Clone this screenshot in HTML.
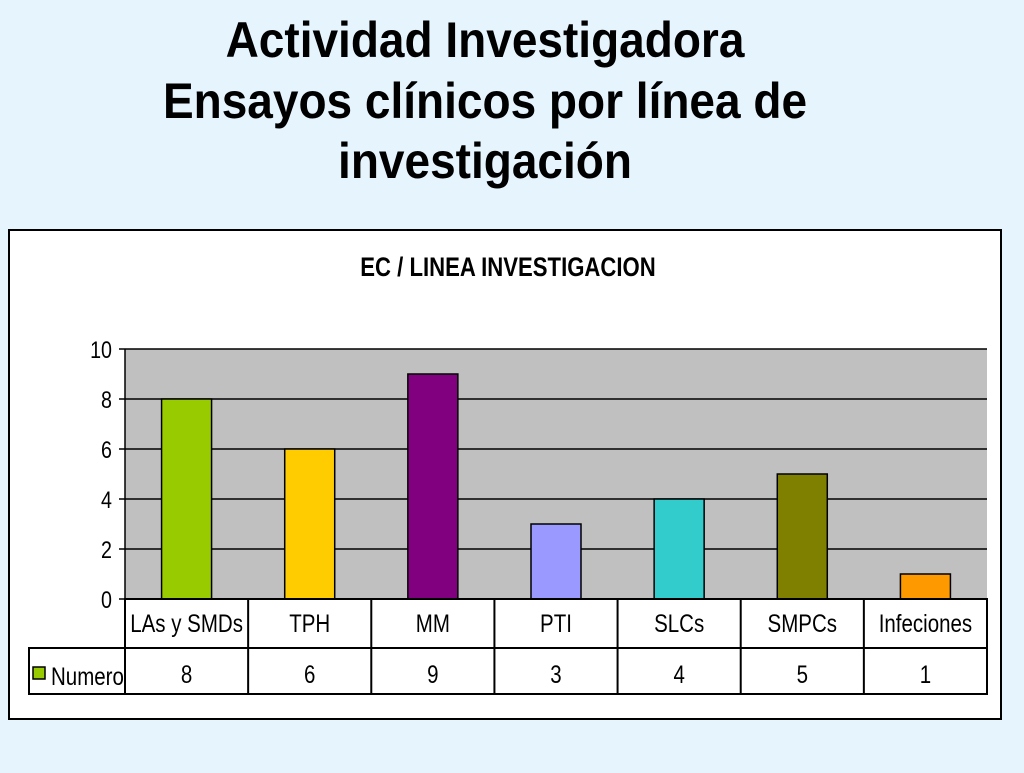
<!DOCTYPE html>
<html><head><meta charset="utf-8"><style>
body{margin:0;width:1024px;height:768px;background:#e6f4fd;overflow:hidden;font-family:"Liberation Sans",sans-serif}
</style></head><body>
<svg width="1024" height="768" font-family="Liberation Sans, sans-serif">
<g font-weight="bold" font-size="50" text-anchor="middle" fill="#000">
<text transform="translate(485,57) scale(0.92,1)">Actividad Investigadora</text>
<text transform="translate(485,118) scale(0.92,1)">Ensayos clínicos por línea de</text>
<text transform="translate(485,178) scale(0.92,1)">investigación</text>
</g>
<rect x="9" y="230" width="992" height="489" fill="#fff" stroke="#000" stroke-width="2"/>
<text transform="translate(508,276) scale(0.82,1)" font-size="27" font-weight="bold" text-anchor="middle">EC / LINEA INVESTIGACION</text>
<rect x="125" y="349" width="862" height="250" fill="#c0c0c0"/>
<g id="grid"></g><g id="bars"></g><g id="yticks"></g><g id="table"></g>
</svg>
<script>
const categories=["LAs y SMDs","TPH","MM","PTI","SLCs","SMPCs","Infeciones"];
const values=[8,6,9,3,4,5,1];
const colors=["#99cc00","#ffcc00","#800080","#9999ff","#33cccc","#808000","#ff9900"];
const yTicks=[0,2,4,6,8,10];
const NS="http://www.w3.org/2000/svg";
const x0=125,x1=987,y0=599,y1=349,yMax=10;
const colW=(x1-x0)/categories.length;
const y=v=>y0-(y0-y1)*v/yMax;
const xc=i=>x0+colW*(i+0.5);
function mk(t,a,p){const e=document.createElementNS(NS,t);for(const k in a)e.setAttribute(k,a[k]);p.appendChild(e);return e;}
function txt(s,x,yy,size,anchor,p){const e=mk('text',{transform:'translate('+x+','+yy+') scale(0.82,1)','font-size':size,'text-anchor':anchor},p);e.textContent=s;return e;}
const grid=document.getElementById('grid'),bars=document.getElementById('bars'),yt=document.getElementById('yticks'),tb=document.getElementById('table');
yTicks.forEach(t=>{
 if(t>0){const l=mk('line',{x1:x0,x2:x1,y1:y(t),y2:y(t),stroke:'#000','stroke-width':1.5},grid);
 
 }
 const k=mk('line',{x1:x0-6,x2:x0,y1:y(t),y2:y(t),stroke:'#000','stroke-width':1.5},yt);
 
 
 const tx=txt(String(t),x0-13,y(t)+9,24,'end',yt);
 
 
});
mk('line',{x1:x0,x2:x0,y1:y1,y2:y0,stroke:'#000','stroke-width':1.5},yt);
values.forEach((v,i)=>{
 const r=mk('rect',{x:xc(i)-25,y:y(v),width:50,height:y0-y(v),fill:colors[i],stroke:'#000','stroke-width':1.5},bars);
 
 
});
const r1=599,r2=648,r3=694;
mk('rect',{x:x0,y:r1,width:x1-x0,height:r2-r1,fill:'#fff',stroke:'#000','stroke-width':2},tb);
mk('rect',{x:29,y:r2,width:x1-29,height:r3-r2,fill:'#fff',stroke:'#000','stroke-width':2},tb);
for(let i=0;i<=categories.length;i++){mk('line',{x1:x0+colW*i,x2:x0+colW*i,y1:r1,y2:r3,stroke:'#000','stroke-width':2},tb);}
categories.forEach((c,i)=>{
 const t=txt(c,xc(i),632,25,'middle',tb);
 
 
 const d=txt(String(values[i]),xc(i),683,25,'middle',tb);
 
 
});
const lk=mk('rect',{x:33,y:667,width:12,height:12,fill:colors[0],stroke:'#000','stroke-width':1.5},tb);


const lt=txt("Numero",51,685,25,'start',tb);


</script>
</body></html>
